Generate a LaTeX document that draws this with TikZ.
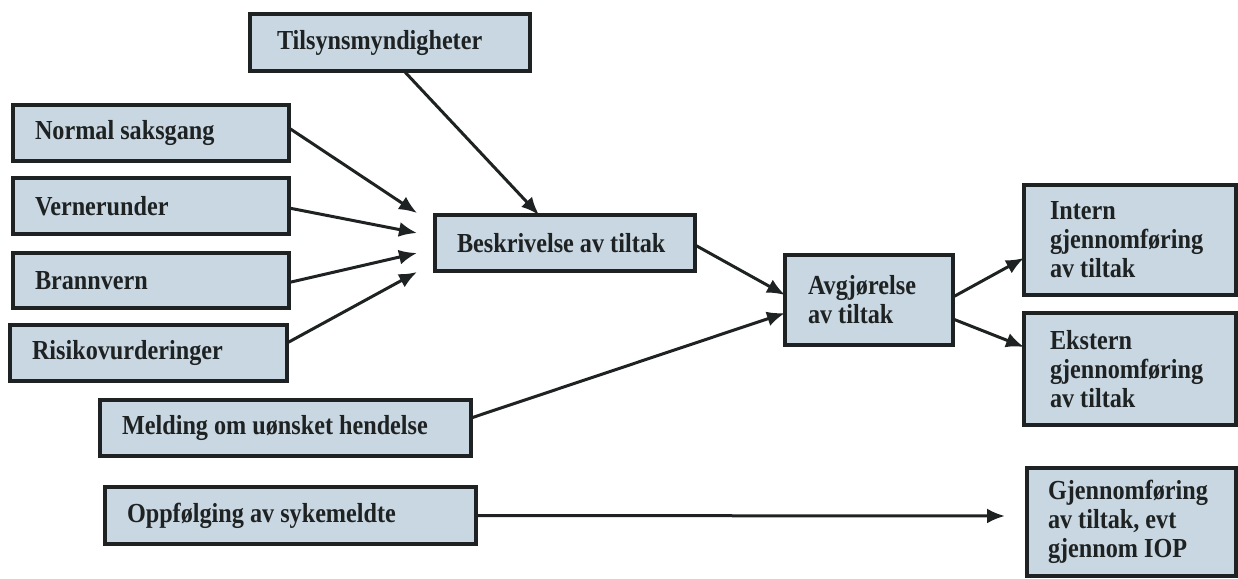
\documentclass[tikz,border=0pt]{standalone}
\usepackage{fontspec}
\newfontfamily\boxfont{Liberation Serif Bold}[FakeStretch=0.88]
\usetikzlibrary{arrows.meta,calc}
\definecolor{boxfill}{RGB}{201,215,226}
\definecolor{linec}{RGB}{30,34,34}
\newcommand\tightspace{\spaceskip=0.22em\relax}
\tikzset{
  bx/.style={draw=linec, line width=3.4pt, fill=boxfill, anchor=north west,
    inner xsep=22pt, inner ysep=0pt, outer sep=0pt, align=left,
    font=\boxfont\fontsize{27.5}{29}\selectfont, text=linec,
    execute at begin node=\tightspace},
  conn/.style={draw=linec, line width=3pt,
    -{Latex[length=18pt,width=15pt]}},
}
\begin{document}
\begin{tikzpicture}[x=1pt,y=-1pt]
\useasboundingbox (0,0) rectangle (1238,578);
% boxes
\node[bx, inner xsep=27pt, text width=226pt, minimum height=57pt] (T) at (250,14) {Tilsynsmyndigheter};
\node[bx, text width=232pt, minimum height=56pt] (N) at (13,105) {Normal saksgang};
\node[bx, text width=232pt, minimum height=56pt] (V) at (13,178) {Vernerunder};
\node[bx, text width=232pt, minimum height=55pt] (B) at (13,253) {Brannvern};
\node[bx, text width=233pt, minimum height=56pt] (R) at (10,325) {Risikovurderinger};
\node[bx, text width=327pt, minimum height=56pt] (M) at (100,400) {Melding om uønsket hendelse};
\node[bx, text width=327pt, minimum height=57pt] (O) at (105,487) {Oppfølging av sykemeldte};
\node[bx, text width=216pt, minimum height=56pt] (Be) at (435,215) {Beskrivelse av tiltak};
\node[bx, inner xsep=23pt, text width=122pt, minimum height=90pt] (A) at (785,255) {Avgjørelse\\av tiltak};
\node[bx, inner xsep=26pt, text width=160pt, minimum height=110pt] (I) at (1024,185) {Intern\\gjennomføring\\av tiltak};
\node[bx, inner xsep=26pt, text width=160pt, minimum height=112pt] (E) at (1024,313) {Ekstern\\gjennomføring\\av tiltak};
\node[bx, inner xsep=21pt, text width=167pt, minimum height=108pt] (G) at (1027,468) {Gjennomføring\\av tiltak, evt\\gjennom IOP};
% free arrow ends
\coordinate (eN) at (417,213);
\coordinate (eV) at (417,233);
\coordinate (eB) at (417,253);
\coordinate (eR) at (417,272);
\coordinate (eO) at (1005,516);
% connectors
\draw[conn] ([yshift=5pt]N.east) -- (eN);
\draw[conn] ([yshift=-2pt]V.east) -- (eV);
\draw[conn] ([yshift=-2pt]B.east) -- (eB);
\draw[conn] ([yshift=10pt]R.east) -- (eR);
\draw[conn] ($(T.south west)!0.55!(T.south east)$) -- ($(Be.north west)!0.4!(Be.north east)$);
\draw[conn] ([yshift=-2pt]Be.east) -- ([yshift=5pt]A.west);
\draw[conn] ([yshift=10pt]M.east) -- ([yshift=-13pt]A.west);
\draw[conn] ([yshift=3pt]A.east) -- ([yshift=-18pt]I.west);
\draw[conn] ([yshift=-19pt]A.east) -- ([yshift=22pt]E.west);
\draw[conn] (O.east) -- (eO);
\end{tikzpicture}
\end{document}
